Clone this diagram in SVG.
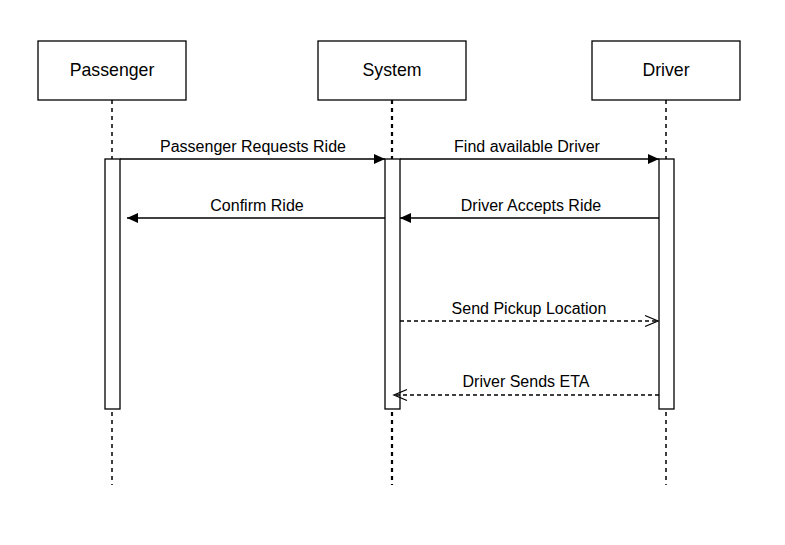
<svg xmlns="http://www.w3.org/2000/svg" width="785" height="545" viewBox="0 0 785 545">
<style>
.box{fill:#fff;stroke:#000;stroke-width:1.3}
.life{stroke:#000;stroke-width:1.5;stroke-dasharray:4 4;fill:none}
.bar{fill:#fff;stroke:#000;stroke-width:1.3}
.t{font-family:"Liberation Sans",Arial,sans-serif;fill:#000;text-anchor:middle}
.lbl{font-size:17.7px}
.msg{font-size:16px}
.ln{stroke:#000;stroke-width:1.3;fill:none}
.dash{stroke-dasharray:4 3}
</style>
<defs>
<marker id="fill" markerWidth="12" markerHeight="12" refX="11" refY="6" orient="auto" markerUnits="userSpaceOnUse">
<path d="M0,1 L11,6 L0,11 Z" fill="#000"/>
</marker>
<marker id="open" markerWidth="16" markerHeight="14" refX="14" refY="7" orient="auto" markerUnits="userSpaceOnUse">
<path d="M1,1.5 L14,7 L1,12.5" fill="none" stroke="#000" stroke-width="1.3"/>
</marker>
</defs>
<g id="passenger">
<line class="life" x1="112" y1="100" x2="112" y2="485"/>
<rect class="box" x="38" y="41" width="148" height="59"/>
<text class="t lbl" x="112" y="76">Passenger</text>
<rect class="bar" x="105" y="159" width="15" height="250"/>
</g>
<g id="system">
<line class="life" x1="392" y1="100" x2="392" y2="485" style="stroke-width:2.2"/>
<rect class="box" x="318" y="41" width="148" height="59"/>
<text class="t lbl" x="392" y="76">System</text>
<rect class="bar" x="385" y="159" width="15" height="250"/>
</g>
<g id="driver">
<line class="life" x1="666" y1="100" x2="666" y2="485"/>
<rect class="box" x="592" y="41" width="148" height="59"/>
<text class="t lbl" x="666" y="76">Driver</text>
<rect class="bar" x="659" y="159" width="15" height="250"/>
</g>
<g id="connectors">
<line class="ln" x1="120" y1="159" x2="385" y2="159" marker-end="url(#fill)"/>
<text class="t msg" x="253" y="152">Passenger Requests Ride</text>
<line class="ln" x1="400" y1="159" x2="659" y2="159" marker-end="url(#fill)"/>
<text class="t msg" x="527" y="152">Find available Driver</text>
<line class="ln" x1="385" y1="218" x2="127" y2="218" marker-end="url(#fill)"/>
<text class="t msg" x="257" y="211">Confirm Ride</text>
<line class="ln" x1="659" y1="218" x2="400" y2="218" marker-end="url(#fill)"/>
<text class="t msg" x="531" y="211">Driver Accepts Ride</text>
<line class="ln dash" x1="400" y1="321" x2="658" y2="321" marker-end="url(#open)"/>
<text class="t msg" x="529" y="314">Send Pickup Location</text>
<line class="ln dash" x1="659" y1="395" x2="394" y2="395" marker-end="url(#open)"/>
<text class="t msg" x="526" y="387">Driver Sends ETA</text>
</g>
</svg>
